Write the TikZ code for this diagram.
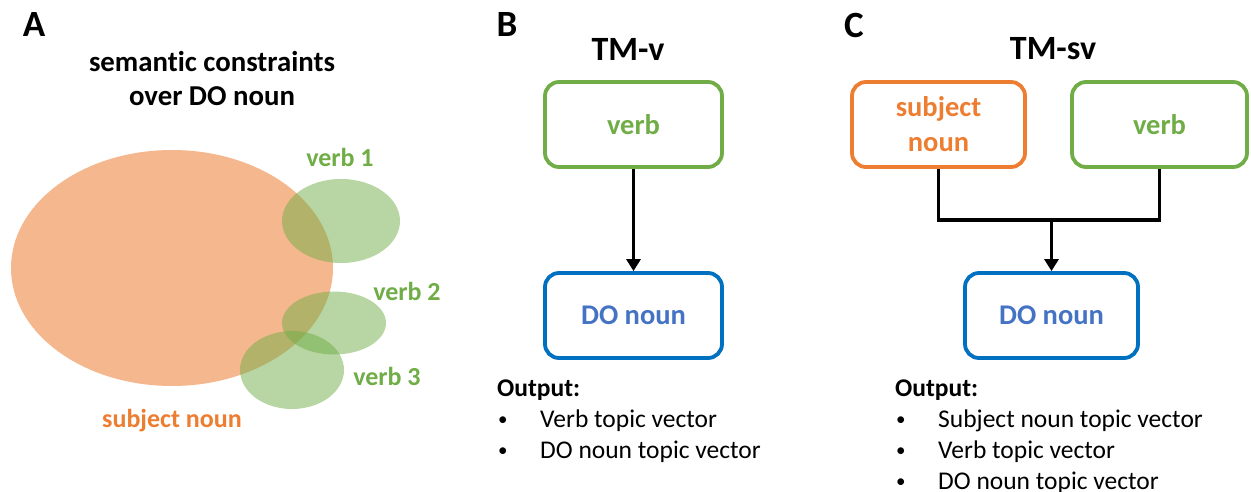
\documentclass[tikz,border=0pt]{standalone}
\usepackage{fontspec}
\setmainfont{Carlito}[Ligatures=NoCommon]
\usepackage{xcolor}
\usepackage{tikz}
\usetikzlibrary{arrows.meta,calc}
\definecolor{SubjOrange}{HTML}{ED7D31}
\definecolor{VerbGreen} {HTML}{70AD47}
\definecolor{ObjBlue}   {HTML}{0070C0}
\definecolor{ObjText}   {HTML}{4472C4}
\definecolor{Ink}       {HTML}{000000}

\begin{document}
\begin{tikzpicture}[x=1pt, y=-1pt,
    panel/.style={font=\fontsize{37}{40}\selectfont\bfseries, text=Ink, inner sep=0pt},
    title/.style={font=\fontsize{34}{38}\selectfont\bfseries, text=Ink, inner sep=0pt},
    lbl/.style={font=\fontsize{26}{34}\selectfont\bfseries, inner sep=0pt},
    txt/.style={font=\fontsize{25.5}{30}\selectfont, text=Ink, inner sep=0pt, anchor=west},
    dot/.style={font=\fontsize{19}{30}\selectfont, text=Ink, inner sep=0pt, anchor=west},
    wordbox/.style={draw, line width=3.8pt, rounded corners=14pt, minimum height=85pt,
                    align=center, font=\fontsize{28.5}{35}\selectfont\bfseries},
    link/.style={line width=3.8pt, Ink},
    arr/.style={link, -{Triangle[length=12pt,width=14pt]}}]

  \useasboundingbox (0,0) rectangle (1251,492);

  % ===== PANEL A =====
  \node[panel] (labA) at (34,25) {A};
  \node[lbl, text=Ink, align=center, font=\fontsize{28.8}{34}\selectfont\bfseries]
        (semA) at (212,79) {semantic constraints\\over DO noun};
  % subject noun and verb sets
  \fill[SubjOrange, fill opacity=0.55] (172,268) ellipse [x radius=161pt, y radius=118pt];
  \fill[VerbGreen, fill opacity=0.5] (341,221) ellipse [x radius=59pt, y radius=42pt];
  \fill[VerbGreen, fill opacity=0.5] (334,323) ellipse [x radius=52pt, y radius=31.5pt];
  \fill[VerbGreen, fill opacity=0.5] (292,370) ellipse [x radius=52pt, y radius=39pt];
  \node[lbl, text=VerbGreen] (v1A) at (340,157) {verb 1};
  \node[lbl, text=VerbGreen] (v2A) at (407,291) {verb 2};
  \node[lbl, text=VerbGreen] (v3A) at (387,376) {verb 3};
  \node[lbl, text=SubjOrange] (subjA) at (172,421) {subject noun};

  % ===== PANEL B : TM-v =====
  \node[panel] (labB) at (507,25) {B};
  \node[title] (tmB) at (628,49) {TM-v};
  \node[wordbox, VerbGreen, text=VerbGreen, minimum width=177pt] (verbB) at (633.5,124.5) {verb};
  \node[wordbox, ObjBlue, text=ObjText, minimum width=177pt] (objB) at (633.5,315.5) {DO noun};
  \draw[arr] (verbB) -- (objB);
  % output list
  \node[txt, font=\fontsize{25.5}{30}\selectfont\bfseries] (outB) at (497,390) {Output:};
  \foreach \y/\lab [count=\i] in {421/Verb topic vector, 452/DO noun topic vector}{
    \node[dot] (dotB\i) at (498,\y) {•};
    \node[txt] (itemB\i) at (540,\y) {\lab};
  }

  % ===== PANEL C : TM-sv =====
  \node[panel] (labC) at (854,25) {C};
  \node[title] (tmC) at (1053,49) {TM-sv};
  \node[wordbox, SubjOrange, text=SubjOrange, minimum width=173pt] (subjC) at (938.5,124.5) {subject\\noun};
  \node[wordbox, VerbGreen, text=VerbGreen, minimum width=175pt] (verbC) at (1159.5,124.5) {verb};
  \node[wordbox, ObjBlue, text=ObjText, minimum width=173pt] (objC) at (1051.5,315.5) {DO noun};
  \coordinate (join) at (objC.north |- 0,220);
  \draw[link, line join=miter] (subjC.south) |- (join) -| (verbC.south);
  \draw[arr] (join) -- (objC.north);
  % output list
  \node[txt, font=\fontsize{25.5}{30}\selectfont\bfseries] (outC) at (895,390) {Output:};
  \foreach \y/\lab [count=\i] in {421/Subject noun topic vector, 452/Verb topic vector, 483/DO noun topic vector}{
    \node[dot] (dotC\i) at (896,\y) {•};
    \node[txt] (itemC\i) at (938,\y) {\lab};
  }

\end{tikzpicture}
\end{document}
